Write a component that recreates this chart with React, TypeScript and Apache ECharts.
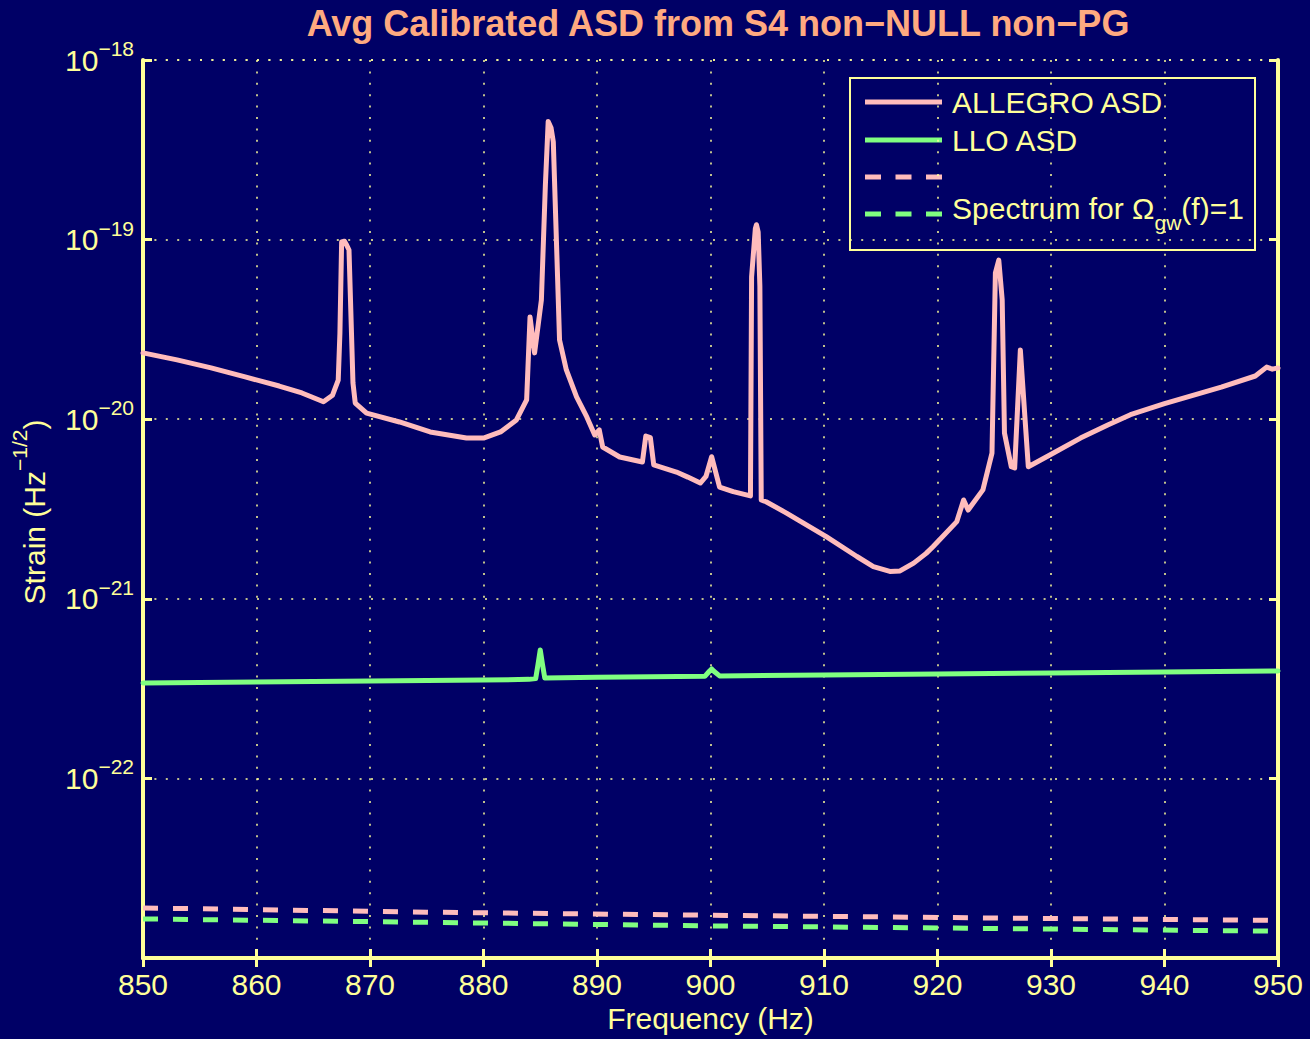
import { useEffect, useRef } from 'react';
import * as echarts from 'echarts';

// ALLEGRO ASD (frequency in Hz, strain in Hz^-1/2)
const allegroFreq = [
  850.0, 853.0, 856.0, 859.0, 862.0, 864.0, 865.9, 866.7, 867.2, 867.35, 867.5, 867.75, 867.95, 868.15,
  868.5, 868.7, 869.7, 872.6, 875.3, 878.5, 880.0, 881.5, 882.9, 883.8, 884.1, 884.5, 885.1, 885.45, 885.7,
  885.95, 886.15, 886.7, 887.3, 888.2, 889.1, 889.8, 890.2, 890.5, 892.0, 894.0, 894.3, 894.7, 895.0,
  897.0, 898.0, 899.1, 899.6, 900.1, 900.8, 902.0, 903.52, 903.62, 903.95, 904.05, 904.2, 904.35,
  904.47, 904.9, 906.7, 910.2, 912.9, 914.35, 915.8, 916.7, 917.9, 919.0, 919.6, 921.7, 922.3, 922.7,
  924.0, 924.8, 925.1, 925.4, 925.7, 925.9, 926.5, 926.8, 927.3, 927.7, 928.0, 929.9, 932.6, 935.0,
  937.0, 940.0, 945.0, 948.0, 949.0, 949.5, 950.0,
];
const allegroASD = [
  2.34e-20, 2.14e-20, 1.93e-20, 1.72e-20, 1.53e-20, 1.40e-20, 1.25e-20, 1.36e-20, 1.65e-20, 3.02e-20,
  9.7e-20, 9.8e-20, 9.3e-20, 8.75e-20, 1.59e-20, 1.23e-20, 1.08e-20, 9.65e-21, 8.49e-21, 7.85e-21,
  7.85e-21, 8.49e-21, 9.9e-21, 1.28e-20, 3.71e-20, 2.34e-20, 4.61e-20, 2.0e-19, 4.55e-19, 4.2e-19,
  3.5e-19, 2.76e-20, 1.88e-20, 1.33e-20, 1.03e-20, 8.17e-21, 8.71e-21, 7.0e-21, 6.16e-21, 5.78e-21,
  8.06e-21, 7.9e-21, 5.56e-21, 5.08e-21, 4.76e-21, 4.41e-21, 4.8e-21, 6.18e-21, 4.19e-21, 3.95e-21,
  3.74e-21, 6.19e-20, 1.15e-19, 1.21e-19, 1.1e-19, 5.5e-20, 3.55e-21, 3.47e-21, 3.0e-21, 2.22e-21,
  1.72e-21, 1.51e-21, 1.42e-21, 1.43e-21, 1.58e-21, 1.79e-21, 1.95e-21, 2.69e-21, 3.55e-21, 3.12e-21,
  4.04e-21, 6.48e-21, 6.52e-20, 7.69e-20, 4.61e-20, 8.38e-21, 5.44e-21, 5.35e-21, 2.43e-20, 1.03e-20,
  5.44e-21, 6.32e-21, 7.85e-21, 9.29e-21, 1.06e-20, 1.22e-20, 1.51e-20, 1.74e-20, 1.95e-20, 1.90e-20,
  1.93e-20,
];

// LLO ASD
const lloFreq = [850, 865, 880, 884.0, 884.6, 884.8, 885.0, 885.2, 885.4, 890, 899.5, 899.9, 900.1, 900.3, 900.8, 910, 920, 930, 940, 950];
const lloASD = [3.40e-22, 3.46e-22, 3.53e-22, 3.56e-22, 3.6e-22, 4.3e-22, 5.19e-22, 4.3e-22, 3.62e-22, 3.66e-22, 3.7e-22, 3.95e-22, 4.07e-22, 3.95e-22, 3.72e-22, 3.76e-22, 3.81e-22, 3.86e-22, 3.91e-22, 3.96e-22];

// Spectrum for Omega_gw(f)=1
const omegaFreq = [850, 875, 900, 925, 950];
const omegaAllegro = [1.90e-23, 1.80e-23, 1.73e-23, 1.67e-23, 1.62e-23];
const omegaLLO = [1.65e-23, 1.58e-23, 1.51e-23, 1.46e-23, 1.41e-23];

const xMin = 850;
const xMax = 950;
const xStep = 10;
const yMin = 1e-23;
const yMax = 1e-18;

const titleText = 'Avg Calibrated ASD from S4 non\u2212NULL non\u2212PG';
const xAxisName = 'Frequency (Hz)';
const yAxisName = ['Strain (Hz', '\u22121/2', ')'];
const legendNames = ['ALLEGRO ASD', 'LLO ASD', '', 'Spectrum for \u03A9'];

const BG = '#000066';
const YEL = '#FFFF99';
const PINK = '#FFBCBC';
const GREEN = '#80FF80';
const FONT = '"Liberation Sans", Arial, Helvetica, sans-serif';
const LW = 5;

const zip = (xs: number[], ys: number[]) => xs.map((x, i) => [x, ys[i]]);

export default function App() {
  const ref = useRef<HTMLDivElement>(null);
  useEffect(() => {
    if (!ref.current) return;
    const chart = echarts.init(ref.current, undefined, { renderer: 'svg' });
    const tick = () => ({
      inside: true,
      length: 9,
      lineStyle: { color: YEL, width: 3 },
    });
    const yLabelRich = {
      b: { fontSize: 30, color: YEL, fontFamily: FONT, lineHeight: 44, verticalAlign: 'middle' },
      s: { fontSize: 21, color: YEL, fontFamily: FONT, lineHeight: 22, verticalAlign: 'top' },
    };
    const lineSeries = (name: string, xs: number[], ys: number[], color: string, dashed: boolean) => ({
      name,
      type: 'line',
      data: zip(xs, ys),
      showSymbol: false,
      symbol: 'none',
      lineStyle: dashed
        ? { color, width: LW, type: [15, 15] }
        : { color, width: LW, join: 'round', cap: 'round' },
      z: dashed ? 4 : 5,
    });
    const option: any = {
      animation: false,
      backgroundColor: BG,
      title: {
        text: titleText,
        left: 713,
        top: 0,
        textAlign: 'center',
        textStyle: { color: '#FFAA80', fontSize: 36, fontWeight: 'bold', fontFamily: FONT },
      },
      grid: { left: 143, right: 32, top: 60, bottom: 81, containLabel: false, outerBoundsMode: 'none' },
      xAxis: [
        {
          type: 'value',
          min: xMin,
          max: xMax,
          interval: xStep,
          position: 'bottom',
          name: xAxisName,
          nameLocation: 'middle',
          nameGap: 43,
          nameTextStyle: { color: YEL, fontSize: 30, fontFamily: FONT },
          axisLine: { show: true, lineStyle: { color: YEL, width: 4 } },
          axisTick: tick(),
          axisLabel: { color: YEL, fontSize: 30, fontFamily: FONT, margin: 11 },
          splitLine: { show: true, lineStyle: { color: YEL, width: 1.5, type: [2, 9.4] } },
        },
        {
          type: 'value',
          min: xMin,
          max: xMax,
          interval: xStep,
          position: 'top',
          axisLine: { show: true, lineStyle: { color: YEL, width: 4 } },
          axisTick: tick(),
          axisLabel: { show: false },
          splitLine: { show: false },
        },
      ],
      yAxis: [
        {
          type: 'log',
          logBase: 10,
          min: yMin,
          max: yMax,
          splitNumber: 5,
          position: 'left',
          axisLine: { show: true, lineStyle: { color: YEL, width: 4 } },
          axisTick: tick(),
          minorTick: { show: false },
          axisLabel: {
            margin: 9,
            formatter: (v: number) => {
              const e = Math.round(Math.log10(v));
              return `{b|10}{s|\u2212${Math.abs(e)}}`;
            },
            rich: yLabelRich,
          },
          splitLine: { show: true, lineStyle: { color: YEL, width: 1.5, type: [2, 9.4] } },
        },
        {
          type: 'log',
          logBase: 10,
          min: yMin,
          max: yMax,
          splitNumber: 5,
          position: 'right',
          axisLine: { show: true, lineStyle: { color: YEL, width: 4 } },
          axisTick: tick(),
          axisLabel: { show: false },
          splitLine: { show: false },
        },
      ],
      series: [
        lineSeries(legendNames[0], allegroFreq, allegroASD, PINK, false),
        lineSeries(legendNames[1], lloFreq, lloASD, GREEN, false),
        lineSeries('omegaAllegro', omegaFreq, omegaAllegro, PINK, true),
        lineSeries('omegaLLO', omegaFreq, omegaLLO, GREEN, true),
      ],
      graphic: [
        {
          type: 'text',
          x: 29,
          y: 512,
          rotation: Math.PI / 2,
          style: {
            text: `{a|${yAxisName[0]}}{s|${yAxisName[1]}}{a|${yAxisName[2]}}`,
            align: 'center',
            verticalAlign: 'middle',
            rich: {
              a: { fontSize: 30, fill: YEL, fontFamily: FONT, lineHeight: 40, verticalAlign: 'bottom' },
              s: { fontSize: 21, fill: YEL, fontFamily: FONT, lineHeight: 22, verticalAlign: 'top' },
            },
          },
        },
        {
          type: 'group',
          z: 100,
          children: [
            {
              type: 'rect',
              shape: { x: 850, y: 78, width: 405, height: 172 },
              style: { fill: BG, stroke: YEL, lineWidth: 2 },
            },
            { type: 'line', shape: { x1: 865, y1: 102, x2: 942, y2: 102 }, style: { stroke: PINK, lineWidth: LW } },
            { type: 'line', shape: { x1: 865, y1: 140, x2: 942, y2: 140 }, style: { stroke: GREEN, lineWidth: LW } },
            { type: 'line', shape: { x1: 865, y1: 177, x2: 942, y2: 177 }, style: { stroke: PINK, lineWidth: LW, lineDash: [16, 14.5] } },
            { type: 'line', shape: { x1: 865, y1: 214, x2: 942, y2: 214 }, style: { stroke: GREEN, lineWidth: LW, lineDash: [16, 14.5] } },
            {
              type: 'text',
              x: 952,
              y: 102,
              style: { text: legendNames[0], fill: YEL, font: `30px ${FONT}`, verticalAlign: 'middle' },
            },
            {
              type: 'text',
              x: 952,
              y: 140,
              style: { text: legendNames[1], fill: YEL, font: `30px ${FONT}`, verticalAlign: 'middle' },
            },
            {
              type: 'text',
              x: 952,
              y: 213,
              style: {
                text: `{a|${legendNames[3]}}{g|gw}{a|(f)=1}`,
                verticalAlign: 'middle',
                rich: {
                  a: { fontSize: 30, fill: YEL, fontFamily: FONT, lineHeight: 40, verticalAlign: 'top' },
                  g: { fontSize: 21, fill: YEL, fontFamily: FONT, lineHeight: 22, verticalAlign: 'bottom' },
                },
              },
            },
          ],
        },
      ],
    };
    chart.setOption(option);
    return () => chart.dispose();
  }, []);
  return (
    <div
      ref={ref}
      style={{ position: 'absolute', left: 0, top: 0, width: 1310, height: 1039, background: BG }}
    />
  );
}
